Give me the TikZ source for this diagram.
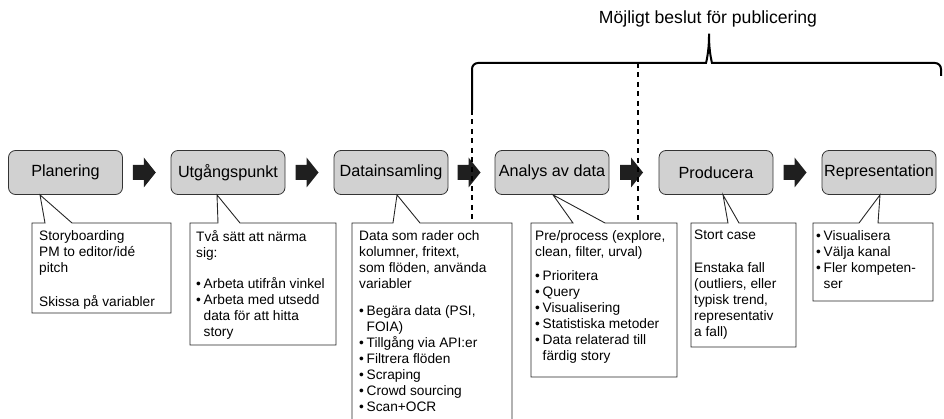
\documentclass[tikz,border=0pt]{standalone}
\usepackage{fontspec}
\setmainfont{Liberation Sans}
\usetikzlibrary{calc}
\newcommand{\bul}{\makebox[7.5pt][l]{\textbullet}}
\newcommand{\ind}{\hspace*{7.5pt}}
\begin{document}
\begin{tikzpicture}[x=1pt, y=-1pt,
    stage/.style={draw=black!80, fill=black!18, rounded corners=7pt, line width=0.8pt,
        minimum width=114pt, minimum height=44pt, inner sep=0pt,
        font=\fontsize{16.2}{19}\selectfont},
    callout/.style={draw=black!85, line width=0.9pt},
    note/.style={anchor=north west, align=left, inner sep=0pt,
        font=\fontsize{13.7}{16}\selectfont},
    blockarrow/.style={fill=black!88},
    bracket/.style={line width=2pt, rounded corners=6pt},
    cut/.style={line width=2.2pt, dash pattern=on 5pt off 4.5pt}]
    \useasboundingbox (0,0) rectangle (944,419);
    % faserna
    \node[stage] (plan) at (65.5,172.5) {Planering};
    \node[stage] (utg)  at (228,172.5) {Utgångspunkt};
    \node[stage] (data) at (391,172.5) {Datainsamling};
    \node[stage] (anal) at (552,172.5) {Analys av data};
    \node[stage] (prod) at (716,172.5) {Producera};
    \node[stage] (repr) at (879,172.5) {Representation};
    % pilar mellan faserna
    \foreach \a/\b in {plan/utg, utg/data, data/anal, anal/prod, prod/repr}
        \fill[blockarrow] ($(\a.east)!0.5!(\b.west)$) ++(-14,-7.5) -- ++(11,0) -- ++(0,-7.5)
            -- ++(12,15) -- ++(-12,15) -- ++(0,-7.5) -- ++(-11,0) -- cycle;
    % beslut om publicering
    \node[font=\fontsize{17.6}{21}\selectfont] (beslut) at (708,19) {Möjligt beslut för publicering};
    \coordinate (cut1) at (472,110);
    \coordinate (cut2) at (638,63);
    \coordinate (datatop) at (472,223);
    \coordinate (analtop) at (638,223);
    \draw[bracket] (cut1) -- (472,63) -- (700,63) .. controls (706,63) and (709,52) .. (709,30)
        .. controls (709,52) and (712,63) .. (718,63) -- (941,63) -- (941,76);
    \draw[cut] (cut1) -- (datatop);
    \draw[cut] (cut2) -- (analtop);
    % Planering
    \draw[callout] (32,223) -- (45,223) -- ([xshift=-25.5]plan.south) -- (72,223)
        -- (171,223) -- (171,313) -- (32,313) -- cycle;
    \node[note] (plantxt) at (39,230) {Storyboarding\\PM to editor/idé\\pitch\\[18pt]Skissa på variabler};
    % Utgångspunkt
    \draw[callout] (190,223) -- (218,223) -- ([xshift=-11]utg.south) -- (240,223)
        -- (336,223) -- (336,345) -- (190,345) -- cycle;
    \node[note] (utgtxt) at (196,230) {Två sätt att närma\\sig:\\[15pt]\bul Arbeta utifrån vinkel\\
        \bul Arbeta med utsedd\\\ind data för att hitta\\\ind story};
    % Datainsamling
    \draw[callout] (352,425) -- (352,223) -- (393,223) -- ([xshift=6]data.south) -- (420,223)
        -- (512,223) -- (512,425);
    \node[note] (datatxt) at (359,230) {Data som rader och\\kolumner, fritext,\\som flöden, använda\\variabler\\[11pt]
        \bul Begära data (PSI,\\\ind FOIA)\\\bul Tillgång via API:er\\\bul Filtrera flöden\\
        \bul Scraping\\\bul Crowd sourcing\\\bul Scan+OCR};
    % Analys av data
    \draw[callout] (531,223) -- (573,223) -- ([xshift=1]anal.south) -- (605,223)
        -- (677,223) -- (677,377) -- (531,377) -- cycle;
    \node[note] (analtxt) at (535,230) {Pre/process (explore,\\clean, filter, urval)\\[8pt]
        \bul Prioritera\\\bul Query\\\bul Visualisering\\\bul Statistiska metoder\\
        \bul Data relaterad till\\\ind färdig story};
    % Producera
    \draw[callout] (691,223) -- (728,223) -- ([xshift=7]prod.south) -- (739,223)
        -- (796,223) -- (796,347) -- (691,347) -- cycle;
    \node[note] (prodtxt) at (694,230) {Stort case\\[17pt]Enstaka fall\\(outliers, eller\\typisk trend,\\representativ\\a fall)};
    % Representation
    \draw[callout] (813,223) -- (859,223) -- ([xshift=1]repr.south) -- (878,223)
        -- (933,223) -- (933,301) -- (813,301) -- cycle;
    \node[note] (reprtxt) at (816,230) {\bul Visualisera\\\bul Välja kanal\\\bul Fler kompeten-\\\ind ser};
\end{tikzpicture}
\end{document}
